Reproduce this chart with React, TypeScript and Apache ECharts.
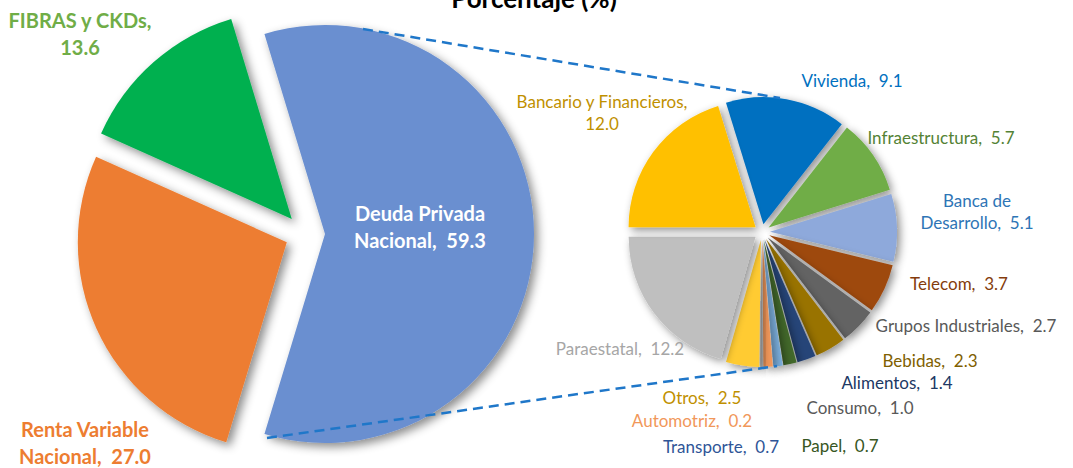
import React, { useEffect, useRef } from 'react';
import * as echarts from 'echarts';

// ---- Data ----
const titleText = 'Porcentaje (%)';

const leftNames = ['Deuda Privada\nNacional', 'Renta Variable\nNacional', 'FIBRAS y CKDs'];
const leftSeparators = [',  ', ',  ', ',\n'];
const leftValues = [59.3, 27.0, 13.6];

const rightNames = [
  'Vivienda', 'Infraestructura', 'Banca de\nDesarrollo', 'Telecom', 'Grupos Industriales',
  'Bebidas', 'Alimentos', 'Consumo', 'Papel', 'Transporte', 'Automotriz', 'Otros',
  'Paraestatal', 'Bancario y Financieros',
];
const rightSeparators = [',  ', ',  ', ',  ', ',  ', ',  ', ',  ', ',  ', ',  ', ',  ', ',  ', ',  ', ',  ', ',  ', ',\n'];
const rightValues = [9.1, 5.7, 5.1, 3.7, 2.7, 2.3, 1.4, 1.0, 0.7, 0.7, 0.2, 2.5, 12.2, 12.0];

// ---- Styles / layout ----
const leftColors = ['#6A8FD0', '#ED7D31', '#00B050'];
const leftLabelColors = ['#FFFFFF', '#ED7D31', '#70AD47'];
const leftLabelPos = [[420, 226], [85, 442], [80, 33]];

const rightColors = [
  '#0070C0', '#70AD47', '#8EA9DB', '#9E480E', '#636363', '#997300', '#264478',
  '#43682B', '#7CAFDD', '#F1975A', '#B7B7B7', '#FFCB33', '#BFBFBF', '#FFC000',
];
const rightLabelColors = [
  '#0070C0', '#548235', '#2E75B6', '#843C0C', '#595959', '#7F6000', '#203864',
  '#595959', '#375623', '#2F5597', '#F1975A', '#BF9000', '#A6A6A6', '#BF9000',
];
const rightLabelPos = [
  [852, 80], [941, 137], [977, 211], [959, 283], [966, 325], [930, 360], [897, 382],
  [860, 407], [840, 445], [721, 446], [692, 420], [702, 397], [620, 348], [602, 112],
];

const connectorLines = [
  [363, 29, 780, 98],
  [267, 438, 777, 366],
];

const FONT = 'Lato, "Open Sans", sans-serif';

export default function App() {
  const ref = useRef<HTMLDivElement>(null);

  useEffect(() => {
    if (!ref.current) return;
    const chart = echarts.init(ref.current, undefined, { renderer: 'svg' });

    const leftSum = leftValues.reduce((a, b) => a + b, 0);
    const rightSum = rightValues.reduce((a, b) => a + b, 0);
    const leftStart = (360 * leftValues[0]) / leftSum / 2;
    const rightStart = 180 - (360 * rightValues[rightValues.length - 1]) / rightSum;

    const shadow = {
      shadowBlur: 10,
      shadowColor: 'rgba(0,0,0,0.45)',
      shadowOffsetX: 4,
      shadowOffsetY: 4,
    };
    const shadowSmall = { ...shadow, shadowBlur: 8, shadowOffsetX: 3, shadowOffsetY: 3 };

    const leftLabels = leftValues.map((v, i) => ({
      type: 'text',
      z: 100,
      style: {
        text: leftNames[i] + leftSeparators[i] + v.toFixed(1),
        x: leftLabelPos[i][0],
        y: leftLabelPos[i][1],
        textAlign: 'center',
        textVerticalAlign: 'middle',
        font: `bold 20px ${FONT}`,
        lineHeight: 27,
        fill: leftLabelColors[i],
      },
    }));

    const rightLabels = rightValues.map((v, i) => ({
      type: 'text',
      z: 100,
      style: {
        text: rightNames[i] + rightSeparators[i] + v.toFixed(1),
        x: rightLabelPos[i][0],
        y: rightLabelPos[i][1],
        textAlign: 'center',
        textVerticalAlign: 'middle',
        font: `17px ${FONT}`,
        lineHeight: 22,
        fill: rightLabelColors[i],
      },
    }));

    const option: any = {
      animation: false,
      backgroundColor: '#FFFFFF',
      graphic: [
        {
          type: 'text',
          z: 100,
          style: {
            text: titleText,
            x: 534,
            y: -2,
            textAlign: 'center',
            textVerticalAlign: 'middle',
            font: `bold 26px ${FONT}`,
            fill: '#000000',
          },
        },
        ...connectorLines.map((l) => ({
          type: 'line',
          z: 100,
          shape: { x1: l[0], y1: l[1], x2: l[2], y2: l[3] },
          style: { stroke: '#1F77C9', lineWidth: 2.5, lineDash: [10, 6] },
        })),
        ...leftLabels,
        ...rightLabels,
      ],
      series: [
        {
          type: 'pie',
          center: [305, 234],
          radius: 209,
          startAngle: leftStart,
          clockwise: true,
          selectedMode: 'multiple',
          selectedOffset: 20,
          emphasis: { disabled: true },
          label: { show: false },
          labelLine: { show: false },
          data: leftValues.map((v, i) => ({
            name: leftNames[i],
            value: v,
            selected: true,
            itemStyle: { color: leftColors[i], ...shadow },
            select: { itemStyle: { color: leftColors[i], ...shadow } },
          })),
        },
        {
          type: 'pie',
          center: [762, 232],
          radius: 127,
          startAngle: rightStart,
          clockwise: true,
          selectedMode: 'multiple',
          selectedOffset: 8,
          emphasis: { disabled: true },
          label: { show: false },
          labelLine: { show: false },
          data: rightValues.map((v, i) => ({
            name: rightNames[i],
            value: v,
            selected: true,
            itemStyle: { color: rightColors[i], ...shadowSmall },
            select: { itemStyle: { color: rightColors[i], ...shadowSmall } },
          })),
        },
      ],
    };

    chart.setOption(option);
    return () => chart.dispose();
  }, []);

  return (
    <div
      ref={ref}
      style={{ position: 'fixed', left: 0, top: 0, width: 1073, height: 468 }}
    />
  );
}
